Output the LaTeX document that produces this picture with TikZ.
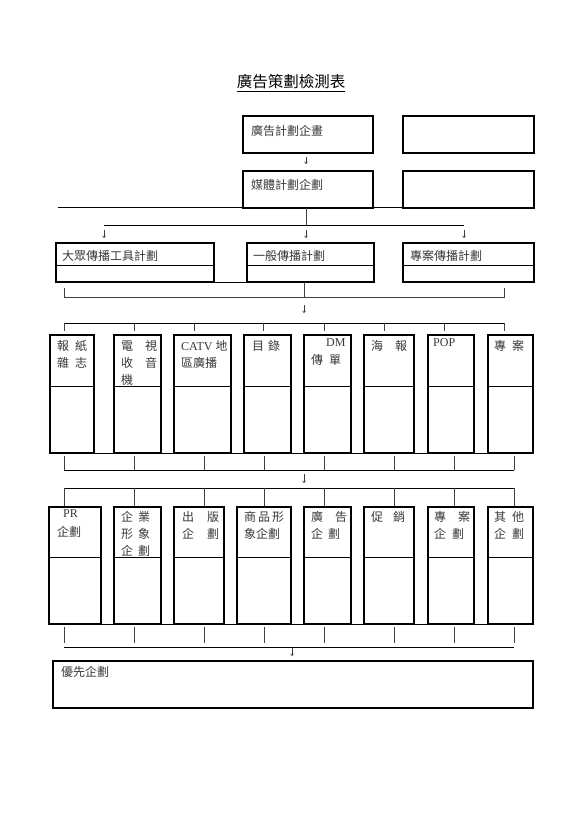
\documentclass[tikz,border=0pt]{standalone}
\usepackage{fontspec}
\setmainfont{Liberation Serif}
\newfontfamily\cjk{Noto Sans CJK TC}
\newfontfamily\lat{Liberation Serif}
\usetikzlibrary{arrows.meta}
\newcommand\mybox[6]{%
  \node[boxst, line width=#6, minimum width={(#4-#2)*1pt}, minimum height={(#5-#3)*1pt}] (#1) at (#2,#3) {};}
\newcommand\mydiv[2]{\draw[divst] (#1.west |- 0,#2) -- (#1.east |- 0,#2);}
\begin{document}
\begin{tikzpicture}[x=1pt,y=-1pt,
  boxst/.style={draw, inner sep=0pt, outer sep=0pt, anchor=north west},
  divst/.style={line width=0.9pt},
  lbl/.style={anchor=west, inner sep=0pt, font=\cjk\fontsize{12}{14}\selectfont, text=black!78},
  conn/.style={line width=0.8pt, black!75},
  arr/.style={line width=0.6pt, black!75, -{To[length=2.5pt,width=3.5pt]}},
  title/.style={inner sep=0pt, font=\cjk\fontsize{15.5}{17}\selectfont}]
\useasboundingbox (0,0) rectangle (580,819);
\fill[white] (0,0) rectangle (580,819);

% title
\node[title] (ttl) at (291,82) {廣告策劃檢測表};
\draw[line width=0.8pt] (ttl.south west |- 0,91) -- (ttl.south east |- 0,91);

% row 1 & 2
\mybox{p1}{243}{116}{373}{153}{2pt}
\mybox{q1}{403}{116}{534}{153}{2pt}
\mybox{p2}{243}{171}{373}{208}{2pt}
\mybox{q2}{403}{171}{534}{208}{2pt}
\node[lbl] (tp1) at (251,131) {廣告計劃企畫};
\node[lbl] (tp2) at (251,185) {媒體計劃企劃};
\coordinate (l0) at (58,207.5);
\draw[line width=1pt] (l0) -- (q2.south east |- l0);
\coordinate (a1s) at (306,157);
\coordinate (a1e) at (306,164);
\draw[arr] (a1s) -- (a1e);

% row 3
\coordinate (b3) at (306,225);
\draw[conn] (p2.south -| b3) -- (b3);
\coordinate (b3l) at (104,225);
\coordinate (b3r) at (464,225);
\draw[line width=0.8pt] (b3l) -- (b3r);
\foreach \x in {104,306,464} \draw[arr] (\x,230) -- (\x,238);
\mybox{r1}{56}{243}{214}{282}{2pt}
\mybox{r2}{247}{243}{374}{282}{2pt}
\mybox{r3}{403}{243}{534}{282}{2pt}
\mydiv{r1}{265}\mydiv{r2}{265}\mydiv{r3}{265}
\draw[line width=0.8pt] (r1.south east) -- (r2.south west);
\node[lbl] (tr1) at (62,256) {大眾傳播工具計劃};
\node[lbl] (tr2) at (253,256) {一般傳播計劃};
\node[lbl] (tr3) at (410,256) {專案傳播計劃};

% bracket below row 3
\coordinate (c3) at (304,297);
\draw[conn] (r2.south -| c3) -- (c3);
\draw[conn] (64,288) -- (64,297) -- (504,297) -- (504,288);
\draw[arr] (304,305) -- (304,313);

% row 4
\draw[line width=0.8pt] (64,323) -- (504,323);
\foreach \x in {64,134,194,263,324,384,444,504} \draw[conn] (\x,323) -- (\x,331);
\mybox{s1}{50}{335}{94}{453}{2pt}
\mybox{s2}{114}{335}{161}{453}{2pt}
\mybox{s3}{174}{335}{231}{453}{2pt}
\mybox{s4}{244}{335}{291}{453}{2pt}
\mybox{s5}{304}{335}{351}{453}{2pt}
\mybox{s6}{364}{335}{414}{453}{2pt}
\mybox{s7}{428}{335}{474}{453}{1.3pt}
\mybox{s8}{488}{335}{533}{453}{1.3pt}
\foreach \n in {s1,s2,s3,s4,s5,s6,s7,s8} {\mydiv{\n}{386}}
\draw[line width=0.8pt] (s1.south east) -- (s8.south west);
\node[lbl] (ts1a) at (57,346) {報\hspace{6pt}紙};
\node[lbl] (ts1b) at (57,363) {雜\hspace{6pt}志};
\node[lbl] (ts2a) at (121,346) {電\hspace{12pt}視};
\node[lbl] (ts2b) at (121,363) {收\hspace{12pt}音};
\node[lbl] (ts2c) at (121,380) {機};
\node[lbl] (ts3a) at (181,346) {{\lat CATV}\hspace{3pt}地};
\node[lbl] (ts3b) at (181,363) {區廣播};
\node[lbl] (ts4a) at (252,346) {目\hspace{4pt}錄};
\node[lbl] (ts5a) at (326,343) {\lat DM};
\node[lbl] (ts5b) at (311,360) {傳\hspace{6pt}單};
\node[lbl] (ts6a) at (371,346) {海\hspace{12pt}報};
\node[lbl] (ts7a) at (433,343) {\lat POP};
\node[lbl] (ts8a) at (494,346) {專\hspace{6pt}案};

% bracket below row 4
\foreach \x in {64,134,204,264,324,394,454,514} \draw[conn] (\x,456) -- (\x,470);
\draw[line width=0.8pt] (64,470) -- (514,470);
\draw[arr] (304,474) -- (304,483);

% row 5
\draw[line width=0.8pt] (64,488) -- (514,488);
\foreach \x in {64,134,204,264,324,394,454,514} \draw[conn] (\x,488) -- (\x,506);
\mybox{u1}{49}{507}{101}{624}{2pt}
\mybox{u2}{114}{507}{161}{624}{2pt}
\mybox{u3}{174}{507}{224}{624}{2pt}
\mybox{u4}{237}{507}{291}{624}{2pt}
\mybox{u5}{304}{507}{351}{624}{2pt}
\mybox{u6}{364}{507}{414}{624}{2pt}
\mybox{u7}{428}{507}{474}{624}{1.3pt}
\mybox{u8}{488}{507}{533}{624}{1.3pt}
\foreach \n in {u1,u2,u3,u4,u5,u6,u7,u8} {\mydiv{\n}{557}}
\draw[line width=0.8pt] (u1.south east) -- (u8.south west);
\node[lbl] (tu1a) at (63,514) {\lat PR};
\node[lbl] (tu1b) at (57,532) {企劃};
\node[lbl] (tu2a) at (121,517) {企\hspace{5pt}業};
\node[lbl] (tu2b) at (121,534) {形\hspace{5pt}象};
\node[lbl] (tu2c) at (121,551) {企\hspace{5pt}劃};
\node[lbl] (tu3a) at (182,517) {出\hspace{13pt}版};
\node[lbl] (tu3b) at (182,534) {企\hspace{13pt}劃};
\node[lbl] (tu4a) at (244,517) {商\hspace{2pt}品\hspace{2pt}形};
\node[lbl] (tu4b) at (244,534) {象企劃};
\node[lbl] (tu5a) at (311,517) {廣\hspace{12pt}告};
\node[lbl] (tu5b) at (311,534) {企\hspace{5pt}劃};
\node[lbl] (tu6a) at (371,517) {促\hspace{10pt}銷};
\node[lbl] (tu7a) at (434,517) {專\hspace{12pt}案};
\node[lbl] (tu7b) at (434,534) {企\hspace{6pt}劃};
\node[lbl] (tu8a) at (494,517) {其\hspace{6pt}他};
\node[lbl] (tu8b) at (494,534) {企\hspace{6pt}劃};

% bracket below row 5
\foreach \x in {64,134,204,264,324,394,454,514} \draw[conn] (\x,627) -- (\x,643);
\draw[line width=0.8pt] (64,647) -- (514,647);
\draw[arr] (292,648) -- (292,656);

% bottom box
\mybox{v}{53}{661}{533}{708}{2pt}
\node[lbl] (tv) at (61,672) {優先企劃};
\end{tikzpicture}
\end{document}
